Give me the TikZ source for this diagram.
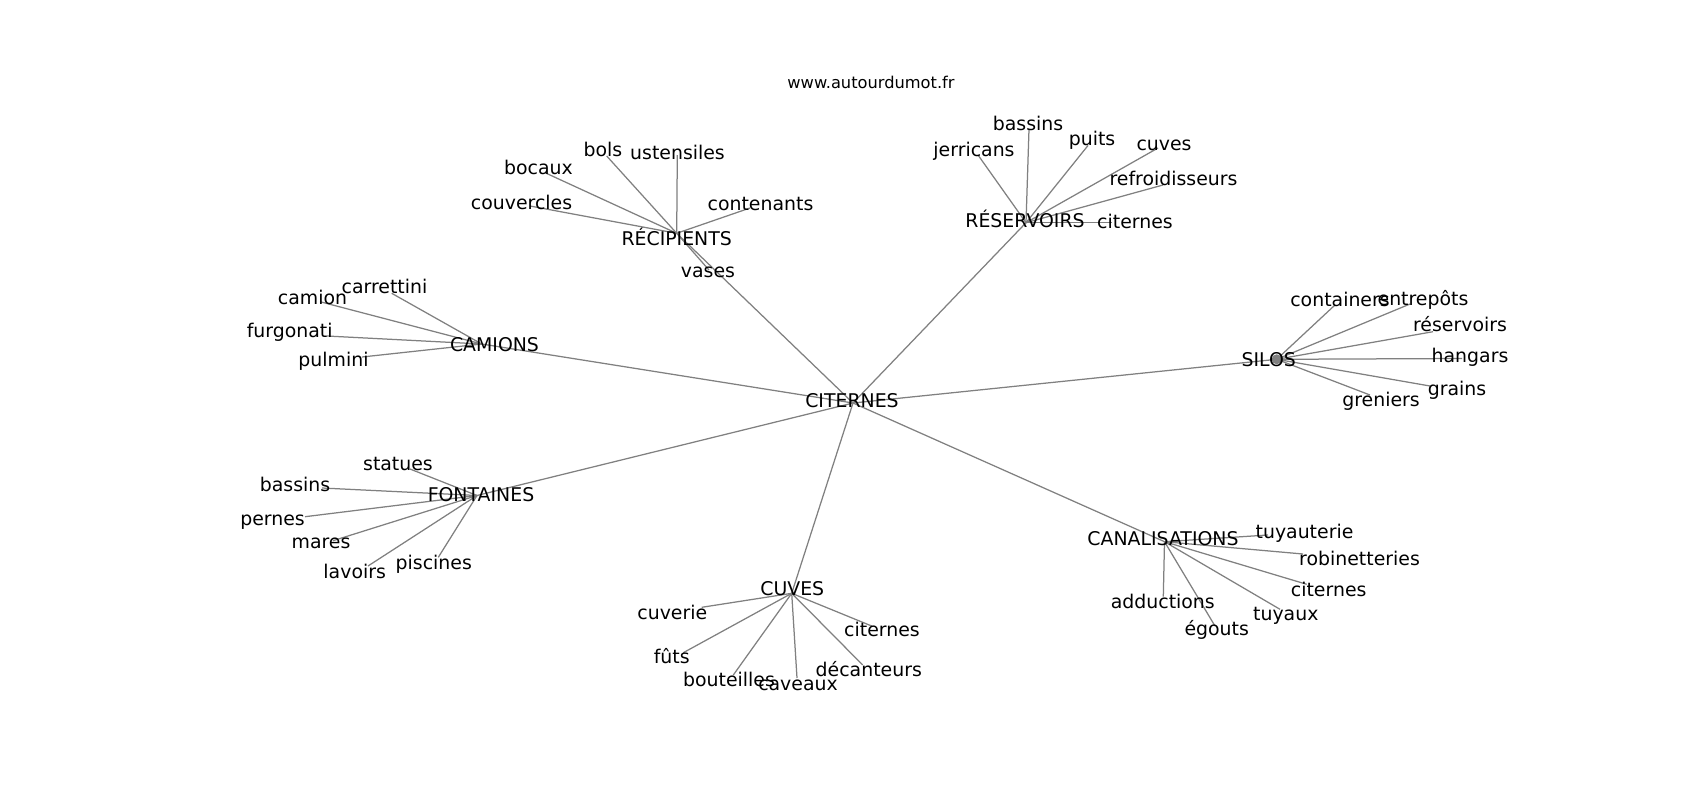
\documentclass[tikz,border=0pt]{standalone}
\usepackage{fontspec}
\setmainfont{DejaVu Sans}
\begin{document}
\begin{tikzpicture}[x=0.72pt,y=-0.72pt,
  edge/.style={draw=gray, line width=0.9pt},
  lbl/.style={anchor=base, inner sep=0pt, text=black, font=\fontsize{13.6}{16}\selectfont},
  ttl/.style={anchor=base, inner sep=0pt, text=black, font=\fontsize{11.7}{14}\selectfont}]
\useasboundingbox (0,0) rectangle (1700,800);
% ---------- node positions ----------
\coordinate (cit) at (853,403);
% recipients
\coordinate (rec) at (676.7,233.3);
\coordinate (rec1) at (606.7,156);
\coordinate (rec2) at (677.3,155);
\coordinate (rec3) at (545,172.7);
\coordinate (rec4) at (530,206);
\coordinate (rec5) at (750,208);
\coordinate (rec6) at (709,270);
% reservoirs
\coordinate (res) at (1026,222.7);
\coordinate (res1) at (1029,129);
\coordinate (res2) at (978,155);
\coordinate (res3) at (1088,145.5);
\coordinate (res4) at (1158,148);
\coordinate (res5) at (1163,185);
\coordinate (res6) at (1112,222.7);
% camions
\coordinate (cam) at (481.7,344);
\coordinate (cam1) at (391.7,293.3);
\coordinate (cam2) at (320,301.7);
\coordinate (cam3) at (326.7,336);
\coordinate (cam4) at (362,357);
% silos
\coordinate (sil) at (1276.7,359.3);
\coordinate (sil1) at (1335,305);
\coordinate (sil2) at (1410,304);
\coordinate (sil3) at (1433,331.7);
\coordinate (sil4) at (1462,358.5);
\coordinate (sil5) at (1430,386);
\coordinate (sil6) at (1370,395);
% fontaines
\coordinate (fon) at (477,495.5);
\coordinate (fon1) at (410,469);
\coordinate (fon2) at (322,488);
\coordinate (fon3) at (305,516.7);
\coordinate (fon4) at (333,540.7);
\coordinate (fon5) at (368,566);
\coordinate (fon6) at (438.3,557.3);
% cuves
\coordinate (cuv) at (791.7,593.3);
\coordinate (cuv1) at (701.7,607.3);
\coordinate (cuv2) at (683.3,652.7);
\coordinate (cuv3) at (733.3,675);
\coordinate (cuv4) at (797,678);
\coordinate (cuv5) at (862.7,665);
\coordinate (cuv6) at (871.7,626);
% canalisations
\coordinate (can) at (1164.5,541.7);
\coordinate (can1) at (1268,535);
\coordinate (can2) at (1303,554);
\coordinate (can3) at (1306.7,584.3);
\coordinate (can4) at (1280,609.3);
\coordinate (can5) at (1215,626);
\coordinate (can6) at (1163.3,596.7);
% ---------- edges ----------
\foreach \g in {rec,res,cam,sil,fon,cuv,can} \draw[edge] (cit) -- (\g);
\foreach \i in {1,...,6} \draw[edge] (rec) -- (rec\i);
\foreach \i in {1,...,6} \draw[edge] (res) -- (res\i);
\foreach \i in {1,...,4} \draw[edge] (cam) -- (cam\i);
\foreach \i in {1,...,6} \draw[edge] (sil) -- (sil\i);
\foreach \i in {1,...,6} \draw[edge] (fon) -- (fon\i);
\foreach \i in {1,...,6} \draw[edge] (cuv) -- (cuv\i);
\foreach \i in {1,...,6} \draw[edge] (can) -- (can\i);
\fill[gray] (sil) circle (5);
% ---------- labels ----------
\node[ttl] (title) at (871,88) {www.autourdumot.fr};
\node[lbl] (Lcit) at (852,407.7) {CITERNES};
\node[lbl] (Lrec) at (676.7,245.7) {RÉCIPIENTS};
\node[lbl] (Lrec1) at (603,156) {bols};
\node[lbl] (Lrec2) at (677.5,159.3) {ustensiles};
\node[lbl] (Lrec3) at (538.5,174) {bocaux};
\node[lbl] (Lrec4) at (521.5,209) {couvercles};
\node[lbl] (Lrec5) at (760.5,210) {contenants};
\node[lbl] (Lrec6) at (708,277) {vases};
\node[lbl] (Lres) at (1025,227) {RÉSERVOIRS};
\node[lbl] (Lres1) at (1028,130) {bassins};
\node[lbl] (Lres2) at (974,156) {jerricans};
\node[lbl] (Lres3) at (1092,145) {puits};
\node[lbl] (Lres4) at (1164,150.7) {cuves};
\node[lbl] (Lres5) at (1173.5,185) {refroidisseurs};
\node[lbl] (Lres6) at (1135,228.7) {citernes};
\node[lbl] (Lcam) at (494.5,351.7) {CAMIONS};
\node[lbl] (Lcam1) at (384.5,293.3) {carrettini};
\node[lbl] (Lcam2) at (312.5,304) {camion};
\node[lbl] (Lcam3) at (289.7,337) {furgonati};
\node[lbl] (Lcam4) at (333.5,366) {pulmini};
\node[lbl] (Lsil) at (1268.8,366.7) {SILOS};
\node[lbl] (Lsil1) at (1340,306) {containers};
\node[lbl] (Lsil2) at (1423,305) {entrepôts};
\node[lbl] (Lsil3) at (1460,331.7) {réservoirs};
\node[lbl] (Lsil4) at (1470,362.7) {hangars};
\node[lbl] (Lsil5) at (1457,395) {grains};
\node[lbl] (Lsil6) at (1381,406.7) {greniers};
\node[lbl] (Lfon) at (481,501.7) {FONTAINES};
\node[lbl] (Lfon1) at (398,470) {statues};
\node[lbl] (Lfon2) at (295,491.7) {bassins};
\node[lbl] (Lfon3) at (272.5,525) {pernes};
\node[lbl] (Lfon4) at (321,548) {mares};
\node[lbl] (Lfon5) at (354.7,578.3) {lavoirs};
\node[lbl] (Lfon6) at (433.8,569.3) {piscines};
\node[lbl] (Lcuv) at (792.3,595.3) {CUVES};
\node[lbl] (Lcuv1) at (672.3,619.3) {cuverie};
\node[lbl] (Lcuv2) at (671.7,663.3) {fûts};
\node[lbl] (Lcuv3) at (729,686) {bouteilles};
\node[lbl] (Lcuv4) at (798,690) {caveaux};
\node[lbl] (Lcuv5) at (868.8,676) {décanteurs};
\node[lbl] (Lcuv6) at (882,636) {citernes};
\node[lbl] (Lcan) at (1163,545) {CANALISATIONS};
\node[lbl] (Lcan1) at (1304.5,538.3) {tuyauterie};
\node[lbl] (Lcan2) at (1359.5,565) {robinetteries};
\node[lbl] (Lcan3) at (1328.7,596.7) {citernes};
\node[lbl] (Lcan4) at (1285.8,620) {tuyaux};
\node[lbl] (Lcan5) at (1216.7,635) {égouts};
\node[lbl] (Lcan6) at (1162.8,608.3) {adductions};
\end{tikzpicture}
\end{document}
